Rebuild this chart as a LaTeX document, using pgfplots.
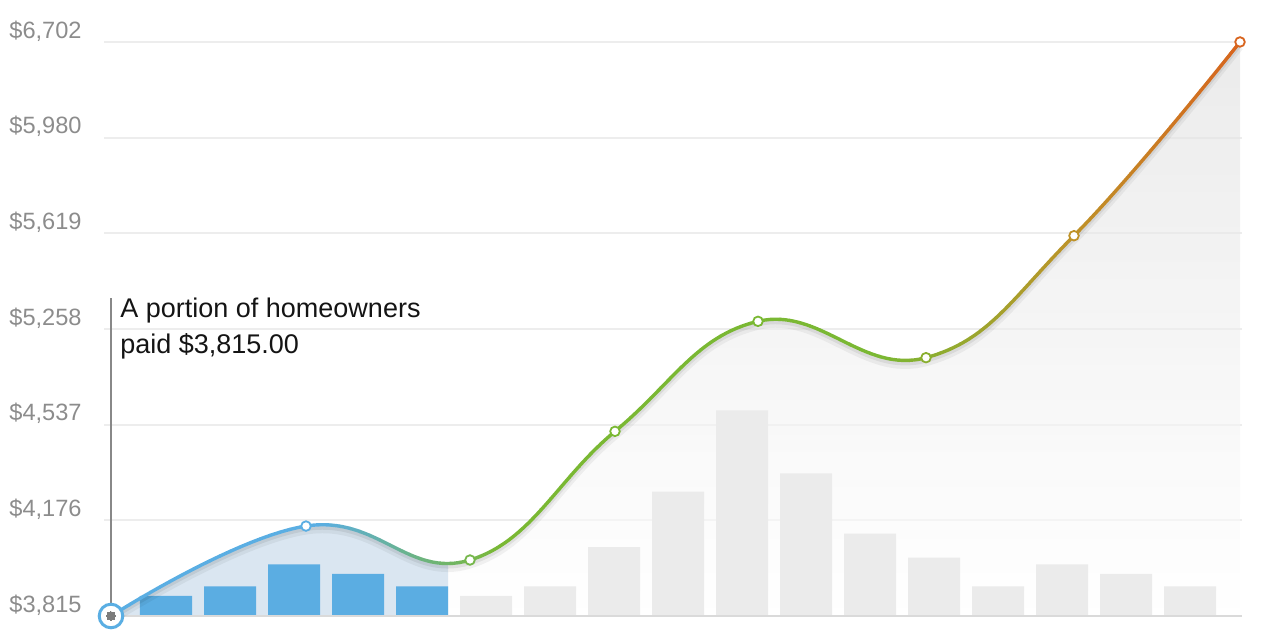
\documentclass[border=0pt]{standalone}
\usepackage{pgfplots}
\pgfplotsset{compat=1.18}
\usepackage{pgfplotstable}
\usepackage{fontspec}
\setmainfont{Liberation Sans}

\definecolor{lineblue}{RGB}{90,174,227}
\definecolor{linegreen}{RGB}{122,184,51}
\definecolor{linegold}{RGB}{190,146,40}
\definecolor{lineorange}{RGB}{216,100,30}
\definecolor{barblue}{RGB}{91,173,226}
\definecolor{bargray}{RGB}{235,235,235}
\definecolor{areablue}{RGB}{218,230,241}
\definecolor{ticktext}{RGB}{140,140,140}
\definecolor{gridgray}{RGB}{237,237,237}
\definecolor{basegray}{RGB}{218,218,218}
\definecolor{pingray}{RGB}{136,136,136}
\definecolor{dotgray}{RGB}{125,125,125}

% line colour for each 10-unit slice along x (blue -> green -> gold -> orange)
\pgfplotsforeachungrouped \i in {0,...,115}{%
  \pgfmathsetmacro\xx{105+10*\i}%
  \ifdim\xx pt<320pt
    \edef\tmp{\noexpand\colorlet{c\i}{lineblue}}\tmp
  \else\ifdim\xx pt<500pt
    \pgfmathtruncatemacro\p{(\xx-320)/1.8}%
    \edef\tmp{\noexpand\colorlet{c\i}{linegreen!\p!lineblue}}\tmp
  \else\ifdim\xx pt<880pt
    \edef\tmp{\noexpand\colorlet{c\i}{linegreen}}\tmp
  \else\ifdim\xx pt<1074pt
    \pgfmathtruncatemacro\p{(\xx-880)/1.94}%
    \edef\tmp{\noexpand\colorlet{c\i}{linegold!\p!linegreen}}\tmp
  \else
    \pgfmathtruncatemacro\p{min(100,(\xx-1074)/1.66)}%
    \edef\tmp{\noexpand\colorlet{c\i}{lineorange!\p!linegold}}\tmp
  \fi\fi\fi\fi
}

% amount paid (grid level; each level is one labelled step)
\pgfplotstableread{
x    y
111  0
306  0.94
470  0.585
615  1.93
758  3.08
926  2.70
1074 3.975
1240 6.0
}\curvedata

\pgfplotstableread{
x   y
166 0.21
230 0.31
294 0.54
358 0.44
422 0.31
}\bluebars

\pgfplotstableread{
x    y
486  0.21
550  0.31
614  0.72
678  1.30
742  2.15
806  1.49
870  0.86
934  0.61
998  0.31
1062 0.54
1126 0.44
1190 0.31
}\graybars

\begin{document}
\begin{tikzpicture}
\begin{axis}[
  x=0.5pt, y=47.835pt,
  xmin=104, xmax=1242, ymin=-0.2509, ymax=6.4388,
  axis line style={draw=none},
  xtick=\empty,
  ytick={0,1,2,3,4,5,6},
  yticklabels={{\$3,815},{\$4,176},{\$4,537},{\$5,258},{\$5,619},{\$5,980},{\$6,702}},
  ytick pos=left,
  major tick length=0pt,
  /pgf/number format/assume math mode=true,
  yticklabel style={font=\fontsize{11.8}{14}\selectfont, text=ticktext,
    anchor=east, inner sep=0pt, xshift=-11pt, yshift=5.5pt},
  ymajorgrids,
  grid style={line width=1pt, color=gridgray},
  clip=false,
  every axis plot/.append style={tension=0.72},
]
% page extent
\path (axis cs:0,-0.2509) rectangle (axis cs:1268,6.4388);

% area under the curve
\addplot[smooth, draw=none, top color=black!13, bottom color=white, fill opacity=0.6]
  table {\curvedata} \closedcycle;
\begin{scope}
  \clip (axis cs:100,-0.2) rectangle (axis cs:448,6.4);
  \addplot[smooth, draw=none, fill=areablue] table {\curvedata} \closedcycle;
\end{scope}

% bars
\addplot[ybar, bar width=26pt, bar shift=0pt, fill=barblue, draw=none] table {\bluebars};
\addplot[ybar, bar width=26pt, bar shift=0pt, fill=bargray, draw=none] table {\graybars};
\draw[basegray, line width=1pt] (axis cs:104,0) -- (axis cs:1242,0);

% soft shadow below the line
\addplot[smooth, line width=3.5pt, black, opacity=0.05, yshift=-2.5pt] table {\curvedata};
\addplot[smooth, line width=2pt, black, opacity=0.07, yshift=-1.5pt] table {\curvedata};

% the line, coloured slice by slice
\pgfplotsinvokeforeach{0,...,115}{
  \begin{scope}
    \clip (axis cs:{99.6+10*#1},-0.2) rectangle (axis cs:{110.4+10*#1},6.4);
    \addplot[smooth, line width=1.7pt, color=c#1] table {\curvedata};
  \end{scope}
}

% point markers
\addplot[only marks, mark=*, mark size=2.4pt, mark options={fill=white, draw=c20, line width=0.9pt}] coordinates {(306,0.94)};
\addplot[only marks, mark=*, mark size=2.4pt, mark options={fill=white, draw=c37, line width=0.9pt}] coordinates {(470,0.585)};
\addplot[only marks, mark=*, mark size=2.4pt, mark options={fill=white, draw=c51, line width=0.9pt}] coordinates {(615,1.93)};
\addplot[only marks, mark=*, mark size=2.4pt, mark options={fill=white, draw=c65, line width=0.9pt}] coordinates {(758,3.08)};
\addplot[only marks, mark=*, mark size=2.4pt, mark options={fill=white, draw=c82, line width=0.9pt}] coordinates {(926,2.70)};
\addplot[only marks, mark=*, mark size=2.4pt, mark options={fill=white, draw=c97, line width=0.9pt}] coordinates {(1074,3.975)};
\addplot[only marks, mark=*, mark size=2.4pt, mark options={fill=white, draw=c114, line width=0.9pt}] coordinates {(1240,6.0)};

% highlighted first point with its note
\addplot[only marks, mark=*, mark size=5.9pt, mark options={fill=white, draw=lineblue, line width=1.5pt}] coordinates {(111,0)};
\draw[pingray, line width=1pt] (axis cs:111,0) -- (axis cs:111,3.324);
\addplot[only marks, mark=*, mark size=2.2pt, mark options={fill=dotgray, draw=dotgray, line width=0pt}] coordinates {(111,0)};
\node[anchor=base west, inner sep=0pt, font=\fontsize{13.5}{16}\selectfont, text=black!92]
  at (axis cs:120,3.121) {A portion of homeowners};
\node[anchor=base west, inner sep=0pt, font=\fontsize{13.5}{16}\selectfont, text=black!92]
  at (axis cs:120,2.739) {paid \$3,815.00};
\end{axis}
\end{tikzpicture}
\end{document}
